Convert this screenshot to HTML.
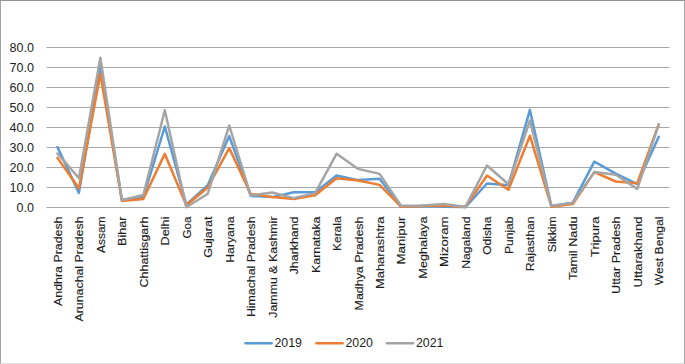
<!DOCTYPE html>
<html><head><meta charset="utf-8">
<style>
html,body{margin:0;padding:0;background:#fff;}
body{width:685px;height:364px;overflow:hidden;position:relative;}
.frame{position:absolute;left:0;top:0;width:683px;height:362px;border:1px solid #9c9c9c;border-top-color:#939393;border-left-color:#a3a3a3;border-right-color:#a6a6a6;border-bottom-color:#dedede;}
svg{position:absolute;left:0;top:0;}
text{font-family:"Liberation Sans",sans-serif;fill:#1e1e1e;}
.yl{font-size:13.3px;}
.xl{font-size:11.6px;stroke:#1e1e1e;stroke-width:0.15px;}
.lg{font-size:13.3px;}
</style></head>
<body>
<div class="frame"></div>
<svg width="685" height="364" viewBox="0 0 685 364">
<line x1="46.5" y1="207.50" x2="669.5" y2="207.50" stroke="#a8a8a8" stroke-width="1"/>
<line x1="46.5" y1="187.50" x2="669.5" y2="187.50" stroke="#a8a8a8" stroke-width="1"/>
<line x1="46.5" y1="167.50" x2="669.5" y2="167.50" stroke="#a8a8a8" stroke-width="1"/>
<line x1="46.5" y1="147.50" x2="669.5" y2="147.50" stroke="#a8a8a8" stroke-width="1"/>
<line x1="46.5" y1="127.50" x2="669.5" y2="127.50" stroke="#a8a8a8" stroke-width="1"/>
<line x1="46.5" y1="107.50" x2="669.5" y2="107.50" stroke="#a8a8a8" stroke-width="1"/>
<line x1="46.5" y1="87.50" x2="669.5" y2="87.50" stroke="#a8a8a8" stroke-width="1"/>
<line x1="46.5" y1="67.50" x2="669.5" y2="67.50" stroke="#a8a8a8" stroke-width="1"/>
<line x1="46.5" y1="47.50" x2="669.5" y2="47.50" stroke="#a8a8a8" stroke-width="1"/>
<text transform="translate(34,211.95) scale(0.945,1)" text-anchor="end" class="yl">0.0</text>
<text transform="translate(34,191.95) scale(0.945,1)" text-anchor="end" class="yl">10.0</text>
<text transform="translate(34,171.95) scale(0.945,1)" text-anchor="end" class="yl">20.0</text>
<text transform="translate(34,151.95) scale(0.945,1)" text-anchor="end" class="yl">30.0</text>
<text transform="translate(34,131.95) scale(0.945,1)" text-anchor="end" class="yl">40.0</text>
<text transform="translate(34,111.95) scale(0.945,1)" text-anchor="end" class="yl">50.0</text>
<text transform="translate(34,91.95) scale(0.945,1)" text-anchor="end" class="yl">60.0</text>
<text transform="translate(34,71.95) scale(0.945,1)" text-anchor="end" class="yl">70.0</text>
<text transform="translate(34,51.95) scale(0.945,1)" text-anchor="end" class="yl">80.0</text>
<polyline points="57.44,147.10 78.91,192.90 100.39,66.30 121.87,199.70 143.34,197.30 164.82,126.50 186.29,204.70 207.77,185.30 229.24,136.10 250.72,195.90 272.20,197.10 293.67,192.30 315.15,192.30 336.62,175.50 358.10,180.10 379.58,178.70 401.05,206.70 422.53,206.10 444.00,206.70 465.48,207.10 486.96,183.50 508.43,185.30 529.91,109.90 551.38,205.90 572.86,202.70 594.33,161.70 615.81,173.70 637.29,184.10 658.76,136.70" fill="none" stroke="#5B9BD5" stroke-width="2.5" stroke-linejoin="round" stroke-linecap="round"/>
<polyline points="57.44,157.90 78.91,188.30 100.39,74.10 121.87,200.90 143.34,199.00 164.82,153.90 186.29,205.30 207.77,187.50 229.24,148.10 250.72,193.90 272.20,196.90 293.67,198.90 315.15,195.30 336.62,178.30 358.10,180.50 379.58,184.90 401.05,206.70 422.53,205.90 444.00,205.50 465.48,206.90 486.96,175.50 508.43,189.70 529.91,135.70 551.38,206.70 572.86,204.10 594.33,172.10 615.81,181.50 637.29,183.30 658.76,124.30" fill="none" stroke="#ED7D31" stroke-width="2.5" stroke-linejoin="round" stroke-linecap="round"/>
<polyline points="57.44,153.50 78.91,178.10 100.39,57.70 121.87,200.30 143.34,195.00 164.82,110.30 186.29,207.30 207.77,193.70 229.24,125.50 250.72,195.50 272.20,192.50 293.67,198.10 315.15,193.10 336.62,153.70 358.10,168.90 379.58,173.90 401.05,205.70 422.53,205.50 444.00,204.10 465.48,206.90 486.96,165.50 508.43,184.30 529.91,120.50 551.38,205.90 572.86,202.70 594.33,172.10 615.81,174.70 637.29,188.90 658.76,124.30" fill="none" stroke="#A5A5A5" stroke-width="2.5" stroke-linejoin="round" stroke-linecap="round"/>
<text transform="translate(61.84,216.5) rotate(-90)" text-anchor="end" class="xl" textLength="89.41" lengthAdjust="spacingAndGlyphs">Andhra Pradesh</text>
<text transform="translate(83.31,216.5) rotate(-90)" text-anchor="end" class="xl" textLength="104.98" lengthAdjust="spacingAndGlyphs">Arunachal Pradesh</text>
<text transform="translate(104.79,216.5) rotate(-90)" text-anchor="end" class="xl" textLength="36.53" lengthAdjust="spacingAndGlyphs">Assam</text>
<text transform="translate(126.27,216.5) rotate(-90)" text-anchor="end" class="xl" textLength="29.40" lengthAdjust="spacingAndGlyphs">Bihar</text>
<text transform="translate(147.74,216.5) rotate(-90)" text-anchor="end" class="xl" textLength="71.14" lengthAdjust="spacingAndGlyphs">Chhattisgarh</text>
<text transform="translate(169.22,216.5) rotate(-90)" text-anchor="end" class="xl" textLength="28.96" lengthAdjust="spacingAndGlyphs">Delhi</text>
<text transform="translate(190.69,216.5) rotate(-90)" text-anchor="end" class="xl" textLength="22.00" lengthAdjust="spacingAndGlyphs">Goa</text>
<text transform="translate(212.17,216.5) rotate(-90)" text-anchor="end" class="xl" textLength="41.30" lengthAdjust="spacingAndGlyphs">Gujarat</text>
<text transform="translate(233.64,216.5) rotate(-90)" text-anchor="end" class="xl" textLength="46.28" lengthAdjust="spacingAndGlyphs">Haryana</text>
<text transform="translate(255.12,216.5) rotate(-90)" text-anchor="end" class="xl" textLength="100.59" lengthAdjust="spacingAndGlyphs">Himachal Pradesh</text>
<text transform="translate(276.60,216.5) rotate(-90)" text-anchor="end" class="xl" textLength="101.27" lengthAdjust="spacingAndGlyphs">Jammu &amp; Kashmir</text>
<text transform="translate(298.07,216.5) rotate(-90)" text-anchor="end" class="xl" textLength="57.84" lengthAdjust="spacingAndGlyphs">Jharkhand</text>
<text transform="translate(319.55,216.5) rotate(-90)" text-anchor="end" class="xl" textLength="56.49" lengthAdjust="spacingAndGlyphs">Karnataka</text>
<text transform="translate(341.02,216.5) rotate(-90)" text-anchor="end" class="xl" textLength="34.41" lengthAdjust="spacingAndGlyphs">Kerala</text>
<text transform="translate(362.50,216.5) rotate(-90)" text-anchor="end" class="xl" textLength="93.96" lengthAdjust="spacingAndGlyphs">Madhya Pradesh</text>
<text transform="translate(383.98,216.5) rotate(-90)" text-anchor="end" class="xl" textLength="72.51" lengthAdjust="spacingAndGlyphs">Maharashtra</text>
<text transform="translate(405.45,216.5) rotate(-90)" text-anchor="end" class="xl" textLength="48.13" lengthAdjust="spacingAndGlyphs">Manipur</text>
<text transform="translate(426.93,216.5) rotate(-90)" text-anchor="end" class="xl" textLength="62.20" lengthAdjust="spacingAndGlyphs">Meghalaya</text>
<text transform="translate(448.40,216.5) rotate(-90)" text-anchor="end" class="xl" textLength="50.47" lengthAdjust="spacingAndGlyphs">Mizoram</text>
<text transform="translate(469.88,216.5) rotate(-90)" text-anchor="end" class="xl" textLength="52.39" lengthAdjust="spacingAndGlyphs">Nagaland</text>
<text transform="translate(491.36,216.5) rotate(-90)" text-anchor="end" class="xl" textLength="38.32" lengthAdjust="spacingAndGlyphs">Odisha</text>
<text transform="translate(512.83,216.5) rotate(-90)" text-anchor="end" class="xl" textLength="37.44" lengthAdjust="spacingAndGlyphs">Punjab</text>
<text transform="translate(534.31,216.5) rotate(-90)" text-anchor="end" class="xl" textLength="54.89" lengthAdjust="spacingAndGlyphs">Rajasthan</text>
<text transform="translate(555.78,216.5) rotate(-90)" text-anchor="end" class="xl" textLength="35.69" lengthAdjust="spacingAndGlyphs">Sikkim</text>
<text transform="translate(577.26,216.5) rotate(-90)" text-anchor="end" class="xl" textLength="63.41" lengthAdjust="spacingAndGlyphs">Tamil Nadu</text>
<text transform="translate(598.73,216.5) rotate(-90)" text-anchor="end" class="xl" textLength="40.53" lengthAdjust="spacingAndGlyphs">Tripura</text>
<text transform="translate(620.21,216.5) rotate(-90)" text-anchor="end" class="xl" textLength="77.44" lengthAdjust="spacingAndGlyphs">Uttar Pradesh</text>
<text transform="translate(641.69,216.5) rotate(-90)" text-anchor="end" class="xl" textLength="70.90" lengthAdjust="spacingAndGlyphs">Uttarakhand</text>
<text transform="translate(663.16,216.5) rotate(-90)" text-anchor="end" class="xl" textLength="68.89" lengthAdjust="spacingAndGlyphs">West Bengal</text>
<line x1="245.5" y1="343.3" x2="271.7" y2="343.3" stroke="#5B9BD5" stroke-width="2.5" stroke-linecap="round"/>
<text transform="translate(274.50,347.2) scale(0.93,1)" class="lg">2019</text>
<line x1="316.40000000000003" y1="343.3" x2="342.6" y2="343.3" stroke="#ED7D31" stroke-width="2.5" stroke-linecap="round"/>
<text transform="translate(345.40,347.2) scale(0.93,1)" class="lg">2020</text>
<line x1="386.90000000000003" y1="343.3" x2="413.1" y2="343.3" stroke="#A5A5A5" stroke-width="2.5" stroke-linecap="round"/>
<text transform="translate(415.90,347.2) scale(0.93,1)" class="lg">2021</text>
</svg>
</body></html>
